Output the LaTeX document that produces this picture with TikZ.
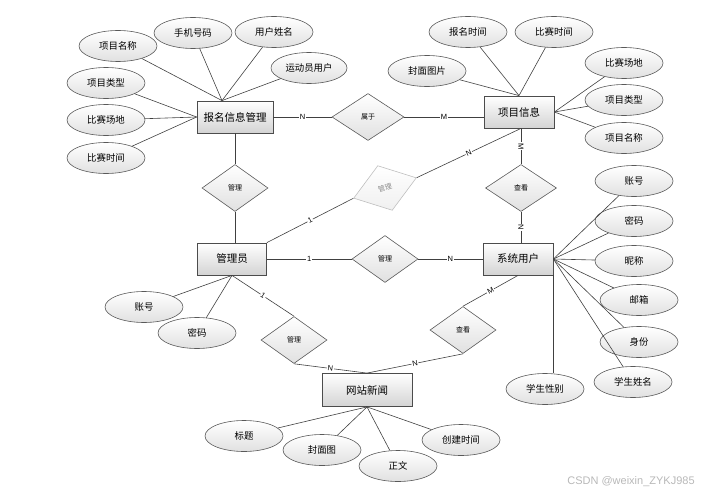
\documentclass[tikz,border=0pt]{standalone}
\usepackage{fontspec}
\setmainfont{Liberation Sans}
\newfontfamily\cjk{Noto Sans CJK SC}
\usetikzlibrary{shapes.geometric,calc}
\tikzset{
	entity/.style={
		rectangle, minimum width=70pt, minimum height=32pt, inner sep=1pt,
		draw=black!70, line width=0.8pt, top color=white, bottom color=black!17,
		font=\cjk\fontsize{10.5}{12}\selectfont
	},
	%
	attr/.style={
		ellipse, minimum width=78pt, minimum height=31pt, inner sep=0pt,
		draw=black!65, line width=0.6pt, top color=white, bottom color=black!12,
		font=\cjk\fontsize{9.4}{11}\selectfont
	},
	%
	relation/.style={
		diamond, minimum width=66pt, minimum height=47pt, inner sep=0pt,
		draw=black!65, line width=0.6pt, top color=white, bottom color=black!12,
		font=\cjk\fontsize{7}{8}\selectfont
	},
	%
	faded/.style={
		draw=black!25, text=black!45, top color=white, bottom color=black!6
	},
	%
	card/.style={
		midway, sloped, fill=white, inner sep=0.8pt, font=\fontsize{7.5}{8}\selectfont
	},
	%
	link/.style={
		draw=black!75, line width=0.6pt
	}
}
\begin{document}
\begin{tikzpicture}[x=1pt, y=-1pt]
    \useasboundingbox (0,0) rectangle (725,495);
    % entities
    \node(Reg)[entity, minimum width=76pt] at (235,117){报名信息管理};
    \node(Proj)[entity] at (519,112){项目信息};
    \node(Admin)[entity, minimum width=69pt] at (232,259){管理员};
    \node(User)[entity] at (518,259){系统用户};
    \node(News)[entity, minimum width=90pt, minimum height=33pt] at (367,390){网站新闻};
    % relations
    \node(Belong)[relation, minimum width=72pt] at (368,117){属于};
    \node(ManageA)[relation] at (235,188){管理};
    \node(ManageB)[relation, faded, rotate=18] at (385,188){管理};
    \node(ManageC)[relation] at (385,259){管理};
    \node(ViewA)[relation, minimum width=71pt] at (521,188){查看};
    \node(ViewB)[relation] at (463,330){查看};
    \node(ManageD)[relation] at (294,340){管理};
    % attributes
    \node(RegName)[attr] at (118,46){项目名称};
    \node(RegPhone)[attr] at (193,33){手机号码};
    \node(RegUser)[attr] at (274,32){用户姓名};
    \node(RegAth)[attr, minimum width=76pt] at (309,68){运动员用户};
    \node(RegType)[attr] at (106,83){项目类型};
    \node(RegPlace)[attr] at (106,120){比赛场地};
    \node(RegTime)[attr] at (106,158){比赛时间};
    \node(ProjSign)[attr] at (468,32){报名时间};
    \node(ProjTime)[attr] at (554,32){比赛时间};
    \node(ProjCover)[attr] at (427,71){封面图片};
    \node(ProjPlace)[attr] at (624,63){比赛场地};
    \node(ProjType)[attr] at (624,100){项目类型};
    \node(ProjName)[attr] at (624,138){项目名称};
    \node(UserAcc)[attr] at (634,181){账号};
    \node(UserPwd)[attr] at (634,221){密码};
    \node(UserNick)[attr] at (634,261){昵称};
    \node(UserMail)[attr] at (639,300){邮箱};
    \node(UserRole)[attr] at (639,342){身份};
    \node(UserStu)[attr] at (633,382){学生姓名};
    \node(UserSex)[attr] at (545,389){学生性别};
    \node(AdminAcc)[attr] at (144,307){账号};
    \node(AdminPwd)[attr] at (197,333){密码};
    \node(NewsTitle)[attr] at (244,436){标题};
    \node(NewsCover)[attr] at (322,450){封面图};
    \node(NewsBody)[attr] at (398,466){正文};
    \node(NewsTime)[attr] at (461,440){创建时间};
    % attribute links
    \coordinate(RegTop) at ([xshift=-13pt]Reg.north);
    \draw[link] (RegTop) -- (RegName);
    \draw[link] (RegTop) -- (RegPhone);
    \draw[link] (RegTop) -- (RegUser);
    \draw[link] (RegTop) -- (RegAth);
    \draw[link] (Reg.west) -- (RegType);
    \draw[link] (Reg.west) -- (RegPlace);
    \draw[link] (Reg.west) -- (RegTime);
    \draw[link] (Proj.north) -- (ProjSign);
    \draw[link] (Proj.north) -- (ProjTime);
    \draw[link] (Proj.north) -- (ProjCover);
    \draw[link] (Proj.east) -- (ProjPlace);
    \draw[link] (Proj.east) -- (ProjType);
    \draw[link] (Proj.east) -- (ProjName);
    \draw[link] (User.east) -- (UserAcc);
    \draw[link] (User.east) -- (UserPwd);
    \draw[link] (User.east) -- (UserNick);
    \draw[link] (User.east) -- (UserMail);
    \draw[link] (User.east) -- (UserRole);
    \draw[link] (User.east) -- (UserStu);
    \draw[link] (User.south east) -- (User.south east |- UserSex.north);
    \draw[link] (Admin.south) -- (AdminAcc);
    \draw[link] (Admin.south) -- (AdminPwd);
    \draw[link] (News.south) -- (NewsTitle);
    \draw[link] (News.south) -- (NewsCover);
    \draw[link] (News.south) -- (NewsBody);
    \draw[link] (News.south) -- (NewsTime);
    % relation links
    \coordinate(ProjS) at (ViewA.north |- Proj.south);
    \draw[link] (Reg) -- node[card]{N} (Belong);
    \draw[link] (Belong.east) -- node[card]{M} (Belong.east -| Proj.west);
    \draw[link] (Reg.south) -- (ManageA.north);
    \draw[link] (ManageA.south) -- (ManageA.south |- Admin.north);
    \draw[link] (Admin.north east) -- node[card]{1} (ManageB.west);
    \draw[link] (ManageB.east) -- node[card]{N} (ProjS);
    \draw[link] (ProjS) -- node[card]{M} (ViewA.north);
    \draw[link] (ViewA.south) -- node[card]{N} (ViewA.south |- User.north);
    \draw[link] (Admin) -- node[card]{1} (ManageC);
    \draw[link] (ManageC) -- node[card]{N} (User);
    \draw[link] (Admin.south) -- node[card]{1} (ManageD.north);
    \draw[link] (ManageD.south) -- node[card]{N} (News.north);
    \draw[link] (User.south) -- node[card]{M} (ViewB.north);
    \draw[link] (ViewB.south) -- node[card]{N} (News.north);
    \node(Mark)[text=black!28, font=\fontsize{11}{12}\selectfont] at (631,482){CSDN @weixin\_ZYKJ985};
\end{tikzpicture}
\end{document}
